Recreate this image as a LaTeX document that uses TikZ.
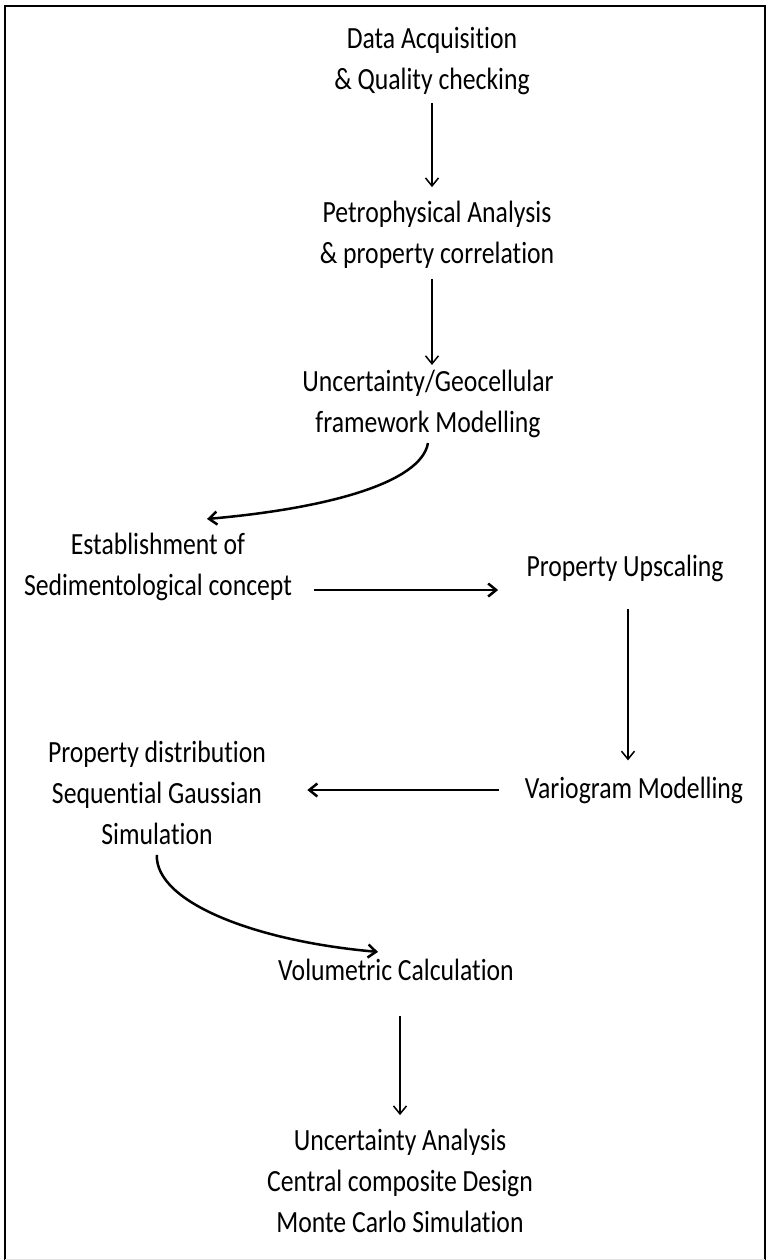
\documentclass[tikz,border=0pt]{standalone}
\usepackage{fontspec}
\usepackage{tikz}
\usetikzlibrary{arrows.meta}
\newfontfamily\flowfont[RawFeature={-liga;-clig;-calt;-rlig;-dlig}]{Carlito}

\begin{document}
\begin{tikzpicture}[x=0.5pt,y=0.5pt,>={Straight Barb[length=4pt,width=6.5pt]},
  stage/.style={align=center,inner sep=2pt,yscale=1.2,
    font=\flowfont\fontsize{12.85pt}{17pt}\selectfont},
  thinflow/.style={->,line width=0.75pt},
  thickflow/.style={->,line width=1.25pt}]
\path[use as bounding box] (0,0) rectangle (769,-1260);

% frame
\draw[line width=1.1pt] (5,-1260) -- (5,-6) -- (765,-6) -- (765,-1260);
\draw[black!12] (5,-1259) -- (765,-1259);

% stages
\node[stage] (acq)   at (432,-61)   {Data Acquisition\\\& Quality checking};
\node[stage] (petro) at (437,-235)  {Petrophysical Analysis\\\& property correlation};
\node[stage] (geo)   at (428,-404)  {Uncertainty/Geocellular\\framework Modelling};
\node[stage] (sedi)  at (158,-567)  {Establishment of\\Sedimentological concept};
\node[stage] (upsc)  at (625,-568)  {Property Upscaling};
\node[stage] (vario) at (634,-790)  {Variogram Modelling};
\node[stage] (sgs)   at (157,-793)  {Property distribution\\Sequential Gaussian\\Simulation};
\node[stage] (volum) at (396,-970)  {Volumetric Calculation};
\node[stage] (unc)   at (400,-1181) {Uncertainty Analysis\\Central composite Design\\Monte Carlo Simulation};

% straight arrows
\draw[thinflow,shorten <=1.5pt,shorten >=4.5pt] (acq.south) -- (acq.south |- petro.north);
\draw[thinflow,shorten <=2.5pt] ([xshift=-2.5pt]petro.south) -- ([xshift=-2.5pt]petro.south |- geo.north);
\draw[thickflow,shorten <=9pt,shorten >=12pt] ([yshift=-11.5pt]sedi.east) -- ([yshift=-11.5pt]sedi.east -| upsc.west);
\draw[thinflow,shorten <=11pt,shorten >=5.5pt] ([xshift=1.5pt]upsc.south) -- ([xshift=1.5pt]upsc.south |- vario.north);
\draw[thickflow,shorten <=11pt,shorten >=18.5pt] (vario.west) -- (vario.west -| sgs.east);
\draw[thinflow,shorten <=15pt,shorten >=4.5pt] ([xshift=2pt]volum.south) -- ([xshift=2pt]volum.south |- unc.north);

% curved arrows
\draw[thickflow] (geo.south)
  to[out=-100,in=5,out looseness=0.45,in looseness=1.3] ([xshift=24.5pt,yshift=4.5pt]sedi.north);
\draw[thickflow,shorten <=2.5pt] (sgs.south)
  to[out=-92,in=175,out looseness=0.55,in looseness=1.3] ([xshift=-9pt,yshift=1pt]volum.north);
\end{tikzpicture}
\end{document}
